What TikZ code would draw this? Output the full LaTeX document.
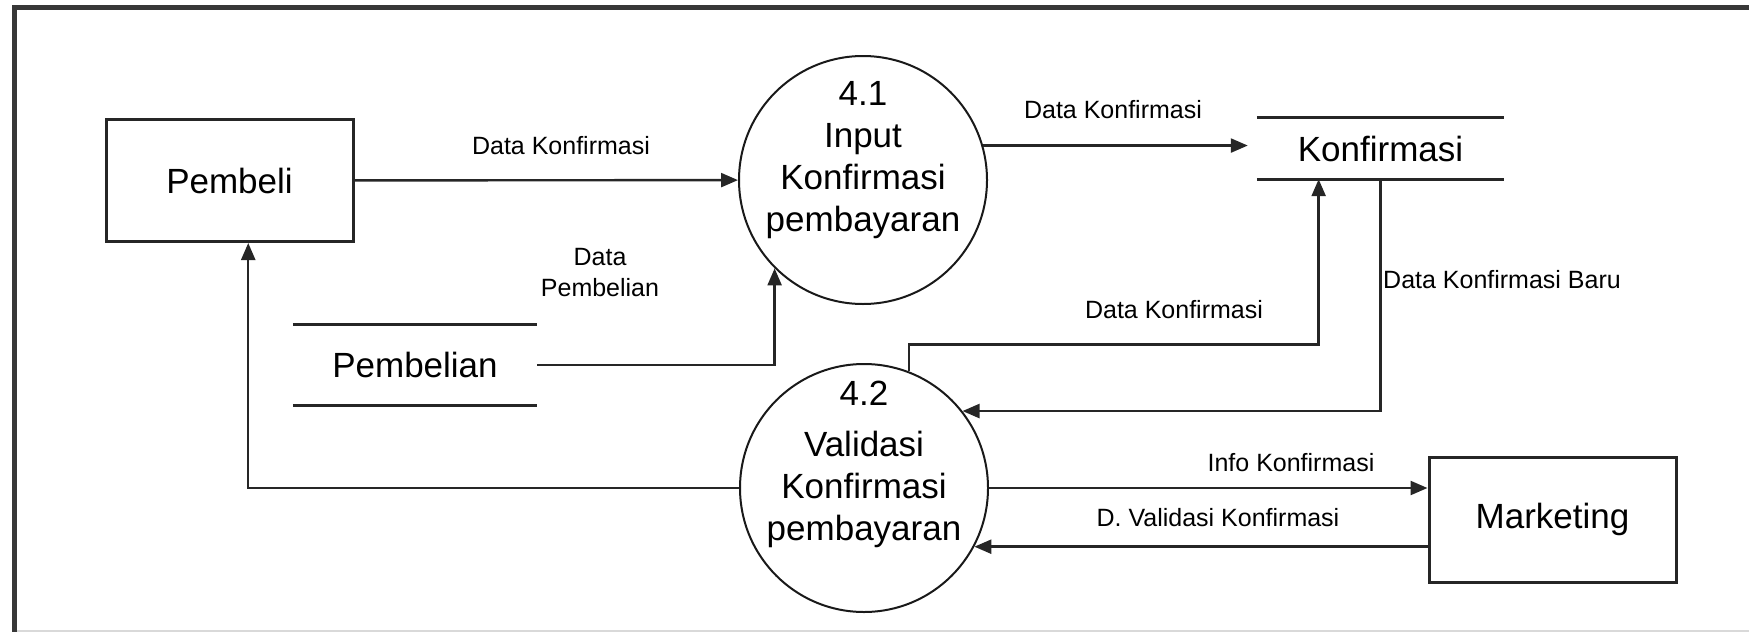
\documentclass[tikz,border=0pt]{standalone}
\usepackage{fontspec}
\setmainfont{Liberation Sans}
\usetikzlibrary{arrows.meta,calc}
\begin{document}
\begin{tikzpicture}[x=1pt,y=-1pt,
  entity/.style={draw=black!85, line width=3pt, minimum width=247pt, minimum height=122pt, inner sep=0pt, font=\fontsize{35}{42}\selectfont},
  proc/.style={circle, draw=black!90, line width=2pt, minimum size=248pt, inner sep=0pt},
  ptext/.style={align=center, inner sep=0pt, font=\fontsize{35}{42}\selectfont},
  store/.style={minimum width=247pt, inner sep=0pt, font=\fontsize{35}{42}\selectfont},
  storeline/.style={draw=black!85, line width=3pt},
  flow/.style={draw=black!85, line width=2.4pt, -{Triangle[length=17pt,width=14pt]}},
  lbl/.style={inner sep=0pt, align=center, font=\fontsize{25}{31}\selectfont},
  frame/.style={draw=black!78}
]
\useasboundingbox (0,0) rectangle (1749,632);
% outer frame
\draw[frame, line width=5pt] (12,7.5) -- (1749,7.5);
\draw[frame, line width=4.5pt] (14.5,5) -- (14.5,632);
\draw[draw=black!15, line width=2pt] (17,630.5) -- (1749,630.5);

% entities
\node[entity] (pembeli) at (229.5,180.5) {Pembeli};
\node[entity, minimum height=125pt] (marketing) at (1552.5,519.5) {Marketing};

% processes
\node[proc] (p41) at (863,180) {};
\node[ptext] (p41t) at (863,160) {4.1\\Input\\Konfirmasi\\pembayaran};
\node[proc] (p42) at (864,488) {};
\node[ptext] (p42n) at (864,393) {4.2};
\node[ptext] (p42t) at (864,489) {Validasi\\Konfirmasi\\pembayaran};

% data stores
\node[store, minimum height=61pt] (konf) at (1380.5,148.5) {Konfirmasi};
\draw[storeline] (konf.north west) -- (konf.north east);
\draw[storeline] (konf.south west) -- (konf.south east);
\node[store, minimum width=244pt, minimum height=80pt] (pembelian) at (415,365) {Pembelian};
\draw[storeline] (pembelian.north west) -- (pembelian.north east);
\draw[storeline] (pembelian.south west) -- (pembelian.south east);

% helper points
\coordinate (kin) at ($(konf.south west)!0.25!(konf.south east)$);
\coordinate (pin) at ($(pembeli.south west)!0.575!(pembeli.south east)$);

% flows
\draw[flow] (pembeli) -- (p41);
\node[lbl] (l1) at (561,146) {Data Konfirmasi};

\draw[flow] (pembelian.east) -| (p41.south west);
\node[lbl] (l2) at (600,273) {Data\\Pembelian};

\draw[flow, shorten >=9pt] (p41.16) -- (p41.16 -| konf.west);
\node[lbl] (l3) at (1113,110) {Data Konfirmasi};

\draw[flow] (p42.69) -- ++(0,-27) -| (kin);
\node[lbl] (l4) at (1174,310) {Data Konfirmasi};

\draw[flow] (konf.south) |- (p42.38);
\node[lbl, anchor=west] (l5) at (1383,280) {Data Konfirmasi Baru};

\draw[flow] (p42.west) -| (pin);

\draw[flow] (p42.east) -- (p42.east -| marketing.west);
\node[lbl] (l6) at (1291,463) {Info Konfirmasi};

\draw[flow] (marketing.west |- p42.-28) -- (p42.-28);
\node[lbl] (l7) at (1218,518) {D. Validasi Konfirmasi};
\end{tikzpicture}
\end{document}
